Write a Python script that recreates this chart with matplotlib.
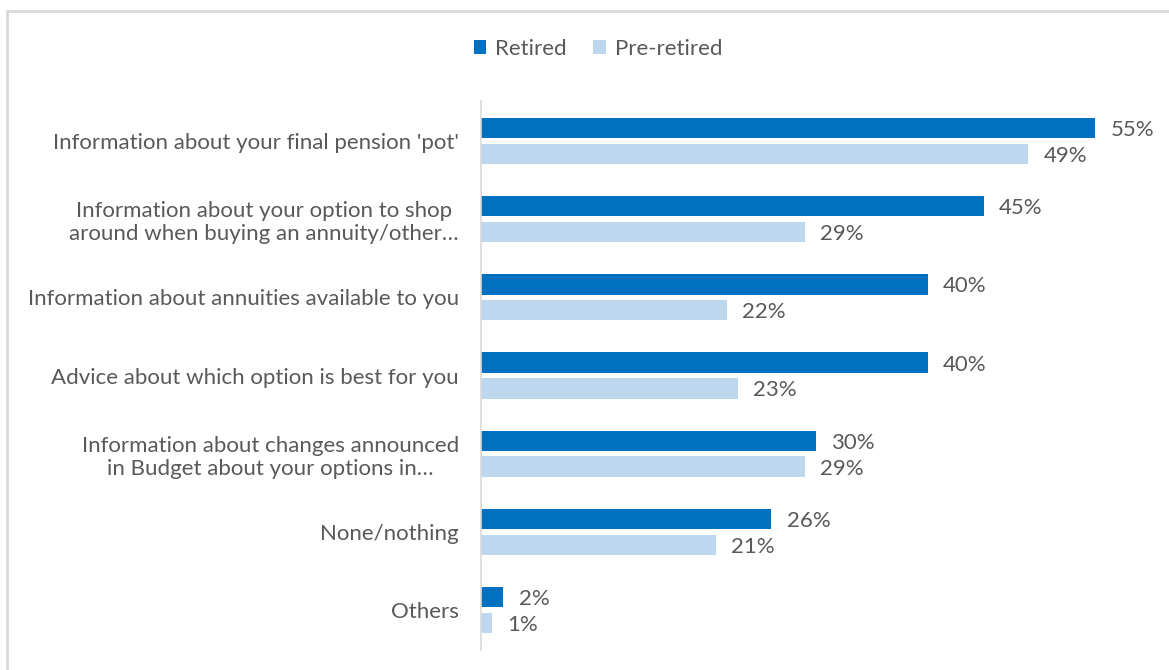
import numpy as np
import matplotlib.pyplot as plt
from matplotlib.patches import Rectangle

plt.rcParams['font.family'] = ['Lato', 'DejaVu Sans']

categories = [
    "Information about your final pension 'pot'",
    "Information about your option to shop\naround when buying an annuity/other\u2026",
    "Information about annuities available to you",
    "Advice about which option is best for you",
    "Information about changes announced\nin Budget about your options in\u2026",
    "None/nothing",
    "Others",
]
retired = [55, 45, 40, 40, 30, 26, 2]
pre_retired = [49, 29, 22, 23, 29, 21, 1]

c_ret = '#0070C0'
c_pre = '#BDD7EE'
txt = '#595959'
fs = 16

W, H = 1169, 670
fig = plt.figure(figsize=(W / 100, H / 100), dpi=100)

# light grey chart-area border (runs off the right and bottom edges)
fig.patches.append(Rectangle((7 / W, -0.05), 1.1, 1 - 11 / H + 0.05,
                             transform=fig.transFigure, fill=False,
                             edgecolor='#D9D9D9', linewidth=2))

ax = fig.add_axes([481 / W, 1 - 650 / H, (1160 - 481) / W, (650 - 101) / H])

y = np.arange(len(categories))
h = 0.26
off = 0.165
b1 = ax.barh(y - off, retired, height=h, color=c_ret, label='Retired')
b2 = ax.barh(y + off, pre_retired, height=h, color=c_pre, label='Pre-retired')

for bars, vals in ((b1, retired), (b2, pre_retired)):
    for rect, v in zip(bars, vals):
        ax.annotate(f'{v}%', (v, rect.get_y() + rect.get_height() / 2),
                    xytext=(11, -1.5), textcoords='offset points',
                    ha='left', va='center', fontsize=fs, color=txt)

ax.set_xlim(0, 60.8)
ax.set_ylim(len(categories) - 0.5 + 0.01, -0.51)
ax.set_yticks(y)
ax.set_yticklabels(categories, fontsize=fs, color=txt, multialignment='center')
ax.tick_params(axis='y', length=0, pad=16)
ax.set_xticks([])
for side in ('top', 'right', 'bottom'):
    ax.spines[side].set_visible(False)
ax.spines['left'].set_color('#D9D9D9')
ax.spines['left'].set_linewidth(1.2)

leg = fig.legend(handles=[b1, b2], loc='center', bbox_to_anchor=(598 / W, 1 - 49 / H),
                 ncol=2, frameon=False, fontsize=fs, handlelength=0.55,
                 handleheight=0.55, handletextpad=0.4, columnspacing=1.2)
for t in leg.get_texts():
    t.set_color(txt)

fig.savefig('out.png', dpi=100, facecolor='white')
